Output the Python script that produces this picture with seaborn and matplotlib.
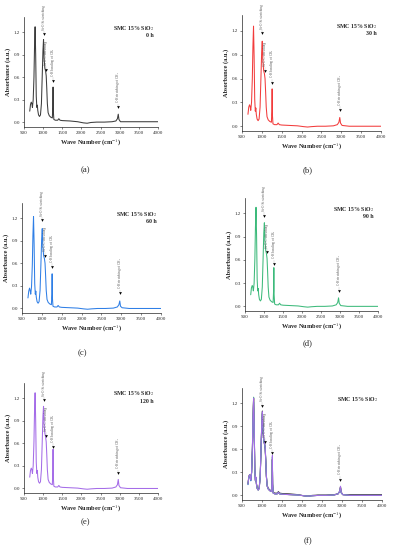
import matplotlib
matplotlib.use("Agg")
import matplotlib.pyplot as plt
import seaborn as sns
import pandas as pd

# wave numbers (cm-1)
wn = [650, 670, 690, 705, 720, 740, 760, 775, 790, 805, 820, 835, 848, 860, 880, 905,
      930, 955, 975, 995, 1010, 1025, 1045, 1065, 1080, 1095, 1110, 1130, 1160, 1200,
      1240, 1252, 1259, 1266, 1280, 1320, 1380, 1410, 1440, 1500, 1700, 1900, 2050,
      2150, 2250, 2400, 2600, 2800, 2900, 2940, 2962, 2980, 3020, 3200, 3500, 3800, 4000]

abs_0h = [0.15, 0.24, 0.27, 0.25, 0.20, 0.30, 0.60, 1.00, 1.27, 0.90, 0.35, 0.20, 0.23, 0.16, 0.10, 0.08,
          0.10, 0.25, 0.60, 0.95, 1.10, 0.85, 0.72, 0.68, 0.62, 0.45, 0.25, 0.13, 0.09, 0.07,
          0.06, 0.20, 0.47, 0.15, 0.04, 0.03, 0.03, 0.05, 0.03, 0.025, 0.02, 0.01, -0.005,
          -0.01, 0.0, 0.005, 0.005, 0.01, 0.02, 0.05, 0.11, 0.04, 0.01, 0.01, 0.01, 0.01, 0.01]
abs_30h = [0.15, 0.24, 0.27, 0.25, 0.20, 0.30, 0.60, 1.00, 1.26, 0.88, 0.34, 0.19, 0.23, 0.15, 0.09, 0.07,
           0.09, 0.24, 0.58, 0.93, 1.07, 0.83, 0.70, 0.66, 0.60, 0.43, 0.24, 0.12, 0.08, 0.06,
           0.05, 0.19, 0.47, 0.14, 0.03, 0.02, 0.02, 0.04, 0.02, 0.015, 0.01, 0.005, -0.005,
           -0.01, -0.005, 0.0, 0.0, 0.005, 0.02, 0.05, 0.11, 0.04, 0.01, 0.0, 0.0, 0.0, 0.0]
abs_60h = [0.14, 0.23, 0.27, 0.24, 0.19, 0.29, 0.58, 0.97, 1.22, 0.86, 0.33, 0.19, 0.23, 0.15, 0.09, 0.07,
           0.09, 0.24, 0.57, 0.92, 1.06, 0.82, 0.70, 0.66, 0.60, 0.43, 0.24, 0.12, 0.08, 0.06,
           0.05, 0.19, 0.46, 0.14, 0.03, 0.02, 0.02, 0.04, 0.02, 0.015, 0.01, 0.005, -0.005,
           -0.01, -0.005, 0.0, 0.0, 0.005, 0.02, 0.05, 0.10, 0.03, 0.01, 0.0, 0.0, 0.0, 0.0]
abs_90h = [0.15, 0.24, 0.27, 0.25, 0.20, 0.30, 0.62, 1.02, 1.28, 0.90, 0.35, 0.20, 0.23, 0.15, 0.09, 0.07,
           0.09, 0.25, 0.60, 0.95, 1.08, 0.85, 0.72, 0.68, 0.62, 0.45, 0.25, 0.12, 0.08, 0.06,
           0.05, 0.20, 0.50, 0.15, 0.03, 0.02, 0.02, 0.04, 0.02, 0.015, 0.01, 0.005, -0.005,
           -0.01, -0.005, 0.0, 0.0, 0.005, 0.02, 0.05, 0.11, 0.04, 0.01, 0.0, 0.0, 0.0, 0.0]
abs_120h = [0.15, 0.24, 0.27, 0.25, 0.20, 0.30, 0.62, 1.02, 1.27, 0.90, 0.35, 0.20, 0.24, 0.15, 0.09, 0.07,
            0.09, 0.25, 0.60, 0.96, 1.09, 0.86, 0.73, 0.68, 0.62, 0.45, 0.25, 0.12, 0.08, 0.06,
            0.05, 0.21, 0.52, 0.15, 0.03, 0.02, 0.02, 0.04, 0.02, 0.015, 0.01, 0.005, -0.005,
            -0.01, -0.005, 0.0, 0.0, 0.005, 0.02, 0.05, 0.12, 0.04, 0.01, 0.0, 0.0, 0.0, 0.0]

times = ["0 h", "30 h", "60 h", "90 h", "120 h"]
series = [abs_0h, abs_30h, abs_60h, abs_90h, abs_120h]
colors = ["#3c3c3c", "#f23c3c", "#2f7fe6", "#3dba7b", "#a56de8"]
panel_tags = ["(a)", "(b)", "(c)", "(d)", "(e)", "(f)"]

# peak assignments: position, marker height, text
peak_pos = [1010, 1080, 1259, 2962]
peak_y = [1.17, 0.70, 0.55, 0.20]
peak_txt = ["Si-O-Si stretching", "Si-O-C stretching",
            "C-H bending of CH$_3$", "C-H stretching of CH$_3$"]

sns.set_style("ticks")
plt.rcParams['font.family'] = ['Liberation Serif', 'DejaVu Serif']
plt.rcParams['mathtext.fontset'] = 'stix'

W, H = 393, 550
fig = plt.figure(figsize=(W / 100, H / 100), dpi=100)

# axes boxes in pixels: left, right, top, bottom
boxes = [(24, 158, 17, 127), (242, 381, 15, 131),
         (22, 161, 203, 313), (245, 378, 198, 311),
         (24, 158, 383, 493), (242, 382, 388, 500)]
tag_xy = [(85, 170), (308, 170), (82, 353), (308, 343), (85, 522), (308, 541)]

for i in range(6):
    l, r, t, b = boxes[i]
    ax = fig.add_axes([l / W, 1 - b / H, (r - l) / W, (b - t) / H])
    if i < 5:
        df = pd.DataFrame({"wn": wn, "A": series[i]})
        sns.lineplot(data=df, x="wn", y="A", ax=ax, color=colors[i], lw=0.75)
    else:
        for s, c in zip(series, colors):
            df = pd.DataFrame({"wn": wn, "A": s})
            sns.lineplot(data=df, x="wn", y="A", ax=ax, color=c, lw=0.75)
    ax.set_xlim(500, 4000)
    ax.set_ylim(-0.06, 1.4)
    ax.set_xticks(range(500, 4001, 500))
    ax.set_yticks([0.0, 0.3, 0.6, 0.9, 1.2])
    ax.set_yticklabels(["0.0", "0.3", "0.6", "0.9", "1.2"])
    sns.despine(ax=ax)
    for sp in ax.spines.values():
        sp.set_linewidth(0.5)
    ax.tick_params(labelsize=3.6, width=0.4, length=1.5, pad=1.5)
    ax.set_xlabel("Wave Number (cm$^{-1}$)", fontsize=4.6, fontweight="bold", labelpad=1.5)
    ax.set_ylabel("Absorbance (a.u.)", fontsize=4.6, fontweight="bold", labelpad=2)

    title = "SMC 15% SiO$_2$" if i == 5 else "SMC 15% SiO$_2$\n" + times[i]
    ax.text(0.97, 0.94, title, transform=ax.transAxes, ha="right", va="top",
            fontsize=4.2, fontweight="bold", linespacing=1.1)

    for px, py, txt in zip(peak_pos, peak_y, peak_txt):
        ax.plot([px], [py], marker="v", color="black", ms=2, mew=0)
        ax.plot([px, px], [py, py + 0.05], color="gray", lw=0.3, ls=(0, (1, 1)))
        ax.text(px, py + 0.06, txt, rotation=90, ha="center", va="bottom",
                fontsize=2.4, color="#555555")

    tx, ty = tag_xy[i]
    fig.text(tx / W, 1 - ty / H, panel_tags[i], ha="center", va="center", fontsize=6.2)

fig.savefig("out.png", dpi=100)
